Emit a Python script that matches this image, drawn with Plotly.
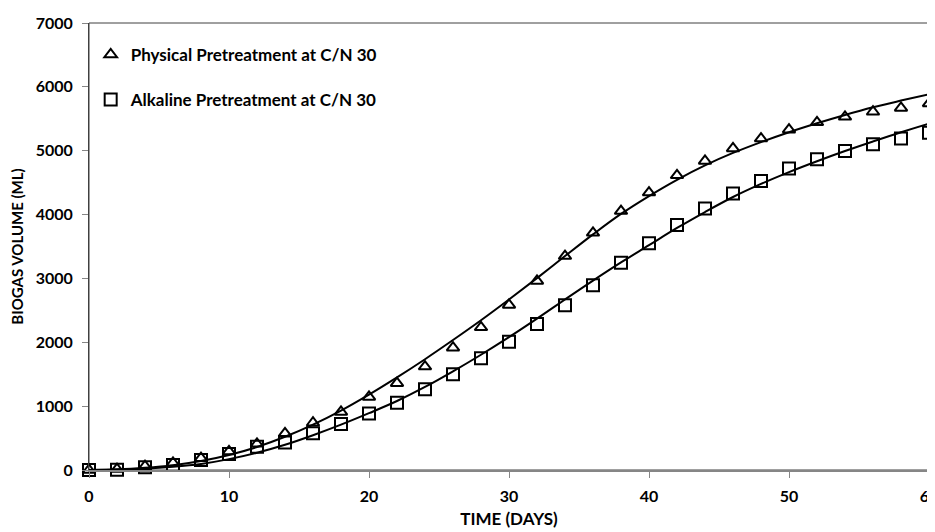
import plotly.graph_objects as go

days = [0, 2, 4, 6, 8, 10, 12, 14, 16, 18, 20, 22, 24, 26, 28, 30,
        32, 34, 36, 38, 40, 42, 44, 46, 48, 50, 52, 54, 56, 58, 60]

physical_obs = [0, 15, 60, 110, 185, 290, 410, 575, 740, 910, 1145, 1360, 1620, 1915, 2235, 2585,
                2960, 3350, 3715, 4055, 4345, 4615, 4840, 5035, 5190, 5330, 5445, 5530, 5610, 5670, 5740]
alkaline_obs = [0, 5, 45, 80, 155, 250, 365, 430, 575, 720, 885, 1055, 1265, 1500, 1750, 2010,
                2285, 2580, 2895, 3245, 3550, 3835, 4095, 4330, 4525, 4720, 4865, 4995, 5100, 5190, 5280]

physical_fit = [0, 10, 35, 75, 140, 235, 360, 520, 710, 930, 1180, 1450, 1735, 2035, 2345, 2670,
                3005, 3350, 3690, 4010, 4290, 4545, 4770, 4965, 5135, 5290, 5430, 5560, 5680, 5785, 5885]
alkaline_fit = [0, 5, 20, 50, 95, 170, 270, 395, 545, 710, 890, 1080, 1300, 1545, 1805, 2080,
                2370, 2670, 2965, 3250, 3520, 3790, 4040, 4275, 4480, 4665, 4835, 4995, 5145, 5290, 5425]

physical_name = "Physical Pretreatment at C/N 30"
alkaline_name = "Alkaline Pretreatment at C/N 30"

FONT = "Lato, 'Liberation Sans', Arial, sans-serif"

fig = go.Figure()
fig.add_trace(go.Scatter(x=days, y=physical_fit, mode="lines", line=dict(color="black", width=2, shape="spline"),
                         showlegend=False, hoverinfo="skip"))
fig.add_trace(go.Scatter(x=days, y=alkaline_fit, mode="lines", line=dict(color="black", width=2, shape="spline"),
                         showlegend=False, hoverinfo="skip"))
fig.add_trace(go.Scatter(x=days, y=physical_obs, mode="markers", name=physical_name, legendgroup="p",
                         cliponaxis=False,
                         marker=dict(symbol="triangle-up-open", size=11, color="black", line=dict(width=2, color="black"))))
fig.add_trace(go.Scatter(x=days, y=alkaline_obs, mode="markers", name=alkaline_name, legendgroup="a",
                         cliponaxis=False,
                         marker=dict(symbol="square-open", size=12, color="black", line=dict(width=2, color="black"))))

fig.update_layout(
    width=935, height=532,
    margin=dict(l=81, r=14, t=15, b=70),
    paper_bgcolor="white", plot_bgcolor="white",
    font=dict(family=FONT, size=16, color="black"),
    legend=dict(x=0.002, y=0.969, xanchor="left", yanchor="top", bgcolor="rgba(0,0,0,0)",
                traceorder="grouped", tracegroupgap=20,
                font=dict(family=FONT, size=17, color="black", weight="bold")),
    xaxis=dict(range=[0, 60], tickvals=[0, 10, 20, 30, 40, 50, 60], ticks="outside", ticklen=6,
               tickcolor="#868686", showline=True, linecolor="#868686", linewidth=1.5,
               showgrid=False, zeroline=False, automargin=False, ticklabelstandoff=5,
               tickfont=dict(family=FONT, size=16, weight="bold"),
               title=dict(text="TIME (DAYS)", font=dict(family=FONT, size=17, weight="bold"), standoff=9)),
    yaxis=dict(range=[0, 7000], tickvals=[0, 1000, 2000, 3000, 4000, 5000, 6000, 7000], ticks="outside", ticklen=6,
               tickcolor="#868686", showline=True, linecolor="#404040", linewidth=1,
               showgrid=False, zeroline=False, automargin=False, ticklabelstandoff=6,
               tickfont=dict(family=FONT, size=16, weight="bold"),
               title=dict(text="BIOGAS VOLUME (ML)", font=dict(family=FONT, size=15, weight="bold"), standoff=14)),
    shapes=[dict(type="rect", xref="paper", yref="paper", x0=0, y0=0, x1=1, y1=1,
                 line=dict(color="#404040", width=1), layer="below")],
)

fig.write_html("out.html")
